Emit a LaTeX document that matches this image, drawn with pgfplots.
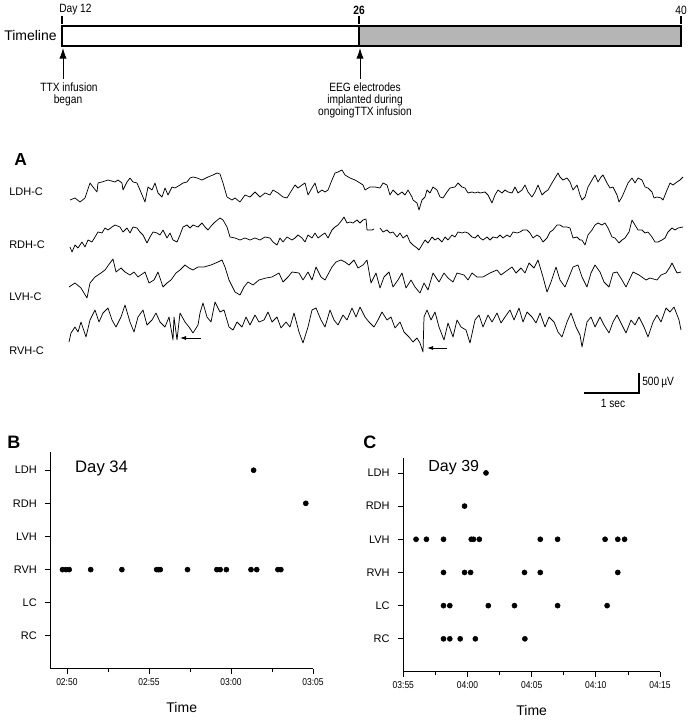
\documentclass[border=0pt]{standalone}
\usepackage{fontspec}
\setmainfont{Liberation Sans}
\newfontfamily\narrowfont{Liberation Sans}[FakeStretch=0.85]
\usepackage{pgfplots}
\pgfplotsset{compat=1.18}
\usetikzlibrary{arrows.meta}

\newcommand\fs[1]{\fontsize{#1}{#1}\selectfont}

\pgfplotsset{
  raster/.style={
    width=196.875pt, height=162.75pt, scale only axis,
    ymin=0, ymax=6.55,
    axis x line*=bottom, axis y line*=left,
    axis line style={line width=0.75pt},
    tick align=outside, tick style={black, line width=0.6pt},
    major tick length=3.75pt, minor tick length=2.5pt,
    ytick={1,2,3,4,5,6}, yticklabels={RC,LC,RVH,LVH,RDH,LDH},
    xticklabel style={font=\narrowfont\fs{7.5}},
    yticklabel style={font=\fs{8.25}, xshift=-3pt},
    xlabel={Time},
    xlabel style={font=\fs{10.5}, at={(axis description cs:0.5,0)}, anchor=center, yshift=-29pt},
    clip=false,
  },
  dots/.style={only marks, mark=*, mark size=1.9pt, black},
  trace/.style={black, mark=none, line width=0.55pt, line join=round},
}

\begin{document}
\begin{tikzpicture}[lab/.style={anchor=west, inner sep=0pt}]
% page laid out in pixel units of the reference (y downwards)
\begin{axis}[at={(0pt,0pt)}, anchor=south west,
  width=516.75pt, height=540pt, scale only axis,
  xmin=0, xmax=689, ymin=0, ymax=720, y dir=reverse,
  axis lines=none, clip=false]

% timeline
\addplot[draw=black, line width=0.9pt, fill=white, mark=none] coordinates {(62,26) (359,26) (359,46) (62,46)} -- cycle;
\addplot[draw=black, line width=0.9pt, fill=gray!58, mark=none] coordinates {(359,26) (681,26) (681,46) (359,46)} -- cycle;
\draw[line width=0.8pt] (axis cs:62,16) -- (axis cs:62,24);
\draw[line width=0.8pt] (axis cs:359,16) -- (axis cs:359,24);
\draw[line width=0.8pt] (axis cs:681,16) -- (axis cs:681,24);
\node[lab, font=\narrowfont\fs{9}] at (axis cs:59,10) {Day 12};
\node[font=\narrowfont\bfseries\fs{9}] at (axis cs:359,10) {26};
\node[font=\narrowfont\fs{9}] at (axis cs:681,10) {40};
\node[lab, font=\fs{10.5}] at (axis cs:4,36) {Timeline};
\draw[line width=0.7pt, -{Latex[length=8pt,width=5.5pt]}] (axis cs:63,79) -- (axis cs:63,48);
\draw[line width=0.7pt, -{Latex[length=8pt,width=5.5pt]}] (axis cs:360,79) -- (axis cs:360,48);
\node[font=\narrowfont\fs{9}] at (axis cs:69,87) {TTX infusion};
\node[font=\narrowfont\fs{9}] at (axis cs:68,100) {began};
\node[font=\narrowfont\fs{9}] at (axis cs:365,87) {EEG electrodes};
\node[font=\narrowfont\fs{9}] at (axis cs:365,100) {implanted during};
\node[font=\narrowfont\fs{9}] at (axis cs:365,112) {ongoingTTX infusion};

% panel A
\node[lab, font=\bfseries\fs{13}] at (axis cs:14,160) {A};
\node[lab, font=\fs{8.25}] at (axis cs:9,192) {LDH-C};
\node[lab, font=\fs{8.25}] at (axis cs:9,245) {RDH-C};
\node[lab, font=\fs{8.25}] at (axis cs:9,297) {LVH-C};
\node[lab, font=\fs{8.25}] at (axis cs:9,351) {RVH-C};

% LDH-C
\addplot[trace] coordinates {(70,200)(75,198)(80,202)(85,198)(90,183)(93,187)(97,192)(98,183)(102,182)(108,180)(115,182)(118,180)(122,183)(123,190)(127,182)(130,178)(133,182)(137,183)(140,190)(145,202)(148,187)(152,190)(155,183)(158,193)(162,197)(165,188)(168,195)(172,187)(175,188)(180,185)(183,183)(187,182)(190,178)(193,177)(197,178)(202,180)(208,177)(213,175)(217,173)(220,174)(223,183)(227,197)(232,200)(235,198)(240,202)(245,195)(250,197)(255,192)(260,197)(265,193)(270,195)(273,190)(278,193)(283,197)(287,198)(290,193)(295,185)(298,188)(302,185)(305,183)(308,195)(312,188)(315,183)(318,193)(322,190)(325,192)(328,190)(332,180)(335,173)(338,172)(342,170)(345,175)(350,178)(355,180)(360,183)(363,185)(365,190)(370,187)(375,187)(380,188)(383,183)(387,185)(390,195)(393,190)(398,195)(402,192)(405,195)(408,190)(412,197)(413,200)(417,203)(419,210)(422,200)(425,197)(427,190)(430,193)(433,187)(437,190)(440,197)(443,198)(447,192)(450,188)(455,187)(458,183)(462,187)(465,188)(468,193)(472,192)(475,193)(478,192)(480,193)(485,192)(488,195)(492,203)(495,195)(498,190)(502,193)(505,190)(508,192)(512,193)(515,187)(518,193)(522,190)(525,185)(528,192)(532,197)(535,192)(538,185)(542,195)(545,192)(548,190)(552,183)(555,178)(558,173)(560,177)(563,180)(567,178)(570,182)(573,190)(577,185)(580,195)(582,200)(585,197)(588,187)(592,180)(595,175)(598,182)(601,177)(603,175)(607,183)(610,188)(613,187)(617,195)(619,202)(622,197)(625,190)(628,183)(632,178)(635,183)(638,178)(642,180)(645,187)(648,188)(652,192)(654,198)(657,197)(661,198)(663,200)(667,190)(670,183)(673,185)(677,182)(680,180)(683,177)};
% RDH-C (two pieces)
\addplot[trace] coordinates {(70,247)(72,252)(75,245)(78,248)(82,242)(85,247)(88,240)(92,242)(95,237)(98,232)(102,233)(105,228)(108,230)(112,227)(115,225)(120,227)(123,232)(127,228)(130,233)(133,227)(137,228)(140,232)(143,235)(147,243)(150,237)(153,232)(157,233)(160,235)(163,230)(167,238)(170,233)(173,240)(177,242)(180,235)(183,227)(187,225)(190,228)(193,225)(198,227)(202,223)(205,227)(208,230)(212,225)(215,222)(220,218)(223,220)(227,227)(230,237)(235,238)(240,240)(245,238)(250,240)(255,238)(260,240)(265,237)(270,238)(273,242)(277,245)(280,238)(283,242)(287,237)(292,240)(295,238)(298,235)(302,238)(305,242)(308,235)(312,238)(315,233)(318,238)(322,235)(325,233)(328,238)(332,230)(335,227)(338,225)(342,220)(344,217)(347,223)(350,222)(353,223)(357,220)(360,223)(363,220)(366,219)(367,230)(372,230)(374,229)};
\addplot[trace] coordinates {(380,228)(383,232)(387,230)(390,233)(393,232)(397,237)(400,233)(403,238)(407,235)(410,242)(413,245)(417,248)(419,250)(422,245)(425,240)(428,243)(432,237)(435,240)(438,238)(442,242)(445,237)(448,240)(452,235)(455,237)(458,232)(462,233)(465,232)(468,233)(472,237)(475,238)(478,235)(480,238)(483,240)(487,237)(490,240)(493,237)(497,238)(500,235)(503,238)(507,235)(510,237)(513,232)(517,233)(520,232)(523,230)(527,230)(530,233)(533,238)(537,235)(540,237)(543,242)(547,238)(550,232)(553,230)(557,225)(560,225)(563,227)(567,227)(570,228)(573,238)(577,237)(580,240)(582,240)(585,245)(588,235)(592,230)(595,225)(598,223)(602,225)(605,223)(608,228)(612,237)(615,238)(619,243)(622,240)(625,238)(629,232)(632,220)(635,225)(638,230)(642,230)(645,233)(648,232)(652,237)(655,242)(658,242)(662,240)(665,238)(668,232)(672,228)(675,230)(678,228)(683,227)};
% LVH-C
\addplot[trace] coordinates {(69,287)(75,283)(81,288)(87,298)(90,283)(95,277)(101,273)(105,270)(110,263)(113,259)(116,272)(121,268)(125,272)(130,275)(134,272)(138,277)(145,272)(149,283)(154,280)(158,272)(163,287)(167,283)(171,280)(176,273)(180,270)(185,265)(189,268)(193,270)(198,267)(204,267)(211,265)(218,262)(222,260)(225,267)(229,280)(235,292)(240,295)(244,287)(248,282)(253,285)(259,280)(266,278)(272,277)(279,273)(283,282)(288,277)(292,272)(299,273)(303,280)(308,272)(312,280)(316,267)(321,277)(325,280)(332,267)(336,262)(341,260)(345,262)(349,265)(354,260)(358,268)(363,265)(367,260)(371,283)(376,273)(380,288)(384,277)(389,272)(393,287)(398,280)(402,273)(406,288)(411,280)(415,287)(420,293)(424,283)(428,290)(433,273)(439,282)(444,273)(448,278)(453,282)(457,273)(464,275)(468,280)(472,273)(477,277)(483,277)(490,273)(497,270)(501,275)(505,272)(512,267)(516,273)(521,268)(525,273)(529,263)(534,268)(538,260)(543,277)(547,292)(551,282)(556,267)(560,280)(565,287)(569,277)(573,267)(578,265)(582,277)(587,287)(591,273)(595,265)(600,272)(604,282)(609,287)(613,273)(617,272)(622,280)(626,287)(633,272)(639,275)(646,280)(650,278)(657,280)(661,275)(666,273)(670,267)(672,263)(677,273)(681,272)};
% RVH-C
\addplot[trace] coordinates {(69,342)(71,333)(75,327)(78,332)(81,322)(86,337)(90,320)(95,310)(99,322)(103,313)(108,308)(112,320)(116,327)(121,317)(125,305)(130,322)(134,332)(138,317)(143,310)(147,325)(152,320)(156,313)(160,322)(165,327)(169,317)(173,340)(174,317)(177,340)(180,313)(185,322)(189,327)(193,333)(198,325)(200,313)(203,303)(207,317)(211,322)(215,302)(220,312)(224,310)(229,327)(233,330)(237,322)(242,327)(246,317)(250,325)(255,315)(259,322)(264,320)(268,312)(272,322)(277,317)(281,328)(286,322)(290,327)(294,313)(299,332)(303,343)(308,327)(312,310)(316,308)(321,320)(325,327)(330,310)(334,320)(338,325)(343,315)(347,320)(352,308)(356,317)(360,307)(365,317)(369,322)(374,327)(378,320)(382,312)(387,320)(391,317)(395,328)(400,322)(404,332)(409,337)(413,342)(417,338)(420,343)(423,352)(424,317)(427,310)(431,320)(435,312)(439,327)(444,340)(448,323)(453,337)(457,320)(461,327)(466,330)(470,343)(475,320)(479,315)(483,327)(488,315)(492,322)(497,313)(501,323)(505,317)(510,310)(514,320)(519,308)(523,322)(527,312)(532,317)(536,323)(540,313)(545,327)(549,317)(554,322)(558,332)(562,337)(567,322)(571,313)(576,327)(580,335)(582,347)(587,322)(591,317)(595,327)(600,317)(604,325)(609,333)(613,322)(617,315)(622,325)(626,333)(631,320)(635,325)(639,317)(644,327)(648,337)(653,322)(657,315)(661,322)(666,308)(670,312)(674,307)(679,320)(681,330)};
\draw[line width=0.6pt, -{Latex[length=4.5pt,width=3pt]}] (axis cs:201,338) -- (axis cs:180,338);
\draw[line width=0.6pt, -{Latex[length=4.5pt,width=3pt]}] (axis cs:447,348) -- (axis cs:427,348);

% scale bar
\draw[line width=0.9pt] (axis cs:584,393) -- (axis cs:639,393) -- (axis cs:639,373);
\node[lab, font=\narrowfont\fs{9}] at (axis cs:642,383) {500\,µV};
\node[font=\narrowfont\fs{9}] at (axis cs:613,403) {1 sec};

% panel letters
\node[lab, font=\bfseries\fs{13.5}] at (axis cs:7,442) {B};
\node[lab, font=\bfseries\fs{13.5}] at (axis cs:363,442) {C};
\end{axis}

% panel B: Day 34
\begin{axis}[raster, at={(37.875pt,38.25pt)}, anchor=south west,
  xmin=169, xmax=185,
  xtick={170,175,180,185}, xticklabels={02:50,02:55,03:00,03:05},
  minor xtick={172.5,177.5,182.5}]
\node[lab, font=\fs{12.5}] at (axis cs:170.49,6.06) {Day 34};
\addplot[dots] coordinates {(169.73,3)(169.94,3)(170.14,3)(171.45,3)(173.35,3)(175.47,3)(175.58,3)(175.69,3)(177.35,3)(179.14,3)(179.34,3)(179.72,3)(181.22,3)(181.57,3)(182.86,3)(183.04,3)};
\addplot[dots] coordinates {(181.38,6)};
\addplot[dots] coordinates {(184.56,5)};
\end{axis}

% panel C: Day 39
\begin{axis}[raster, at={(302.5pt,36pt)}, anchor=south west,
  width=192.5pt, height=160.5pt, ymax=6.45,
  xmin=235, xmax=255,
  xtick={235,240,245,250,255}, xticklabels={03:55,04:00,04:05,04:10,04:15},
  minor xtick={237.5,242.5,247.5,252.5}]
\node[lab, font=\fs{12}] at (axis cs:236.93,6.15) {Day 39};
\addplot[dots] coordinates {(241.44,6)};
\addplot[dots] coordinates {(239.77,5)};
\addplot[dots] coordinates {(235.99,4)(236.80,4)(238.13,4)(240.29,4)(240.47,4)(240.92,4)(245.67,4)(247.02,4)(250.72,4)(251.71,4)(252.24,4)};
\addplot[dots] coordinates {(238.13,3)(239.77,3)(240.24,3)(244.44,3)(245.67,3)(251.71,3)};
\addplot[dots] coordinates {(238.13,2)(238.62,2)(241.62,2)(243.66,2)(247.02,2)(250.88,2)};
\addplot[dots] coordinates {(238.13,1)(238.62,1)(239.43,1)(240.61,1)(244.47,1)};
\end{axis}

\pgfresetboundingbox
\path[use as bounding box] (0,0) rectangle (516.75pt,540pt);
\end{tikzpicture}
\end{document}
